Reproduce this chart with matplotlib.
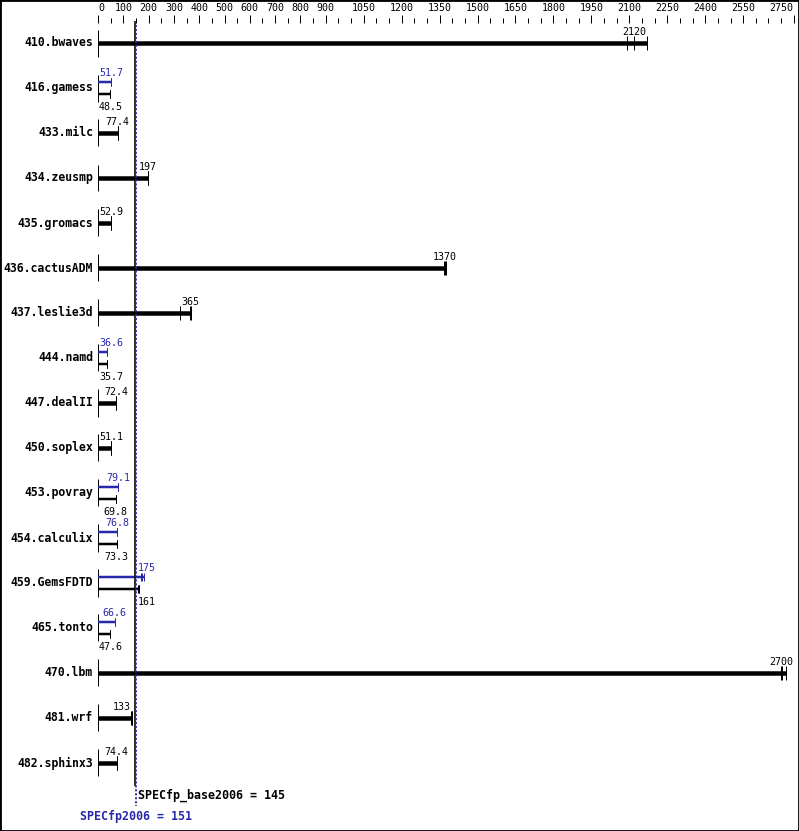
import matplotlib
matplotlib.use("Agg")
import matplotlib.pyplot as plt

# SPECfp2006 results, one row per benchmark
benchmarks = ["410.bwaves", "416.gamess", "433.milc", "434.zeusmp", "435.gromacs",
              "436.cactusADM", "437.leslie3d", "444.namd", "447.dealII", "450.soplex",
              "453.povray", "454.calculix", "459.GemsFDTD", "465.tonto", "470.lbm",
              "481.wrf", "482.sphinx3"]
base_score = [2120, 48.5, 77.4, 197, 52.9, 1370, 365, 35.7, 72.4, 51.1,
              69.8, 73.3, 161, 47.6, 2700, 133, 74.4]
base_runs = [[2090, 2120, 2170], [48.5, 48.5, 48.6], [77.2, 77.4, 77.5], [196, 197, 198],
             [52.9, 52.9, 53.0], [1368, 1370, 1377], [326, 365, 367], [35.6, 35.7, 35.7],
             [72.3, 72.4, 72.5], [51.0, 51.1, 51.2], [69.7, 69.8, 69.9], [73.2, 73.3, 73.4],
             [160, 161, 163], [47.5, 47.6, 47.7], [2700, 2705, 2720], [132, 133, 134],
             [74.3, 74.4, 74.5]]
peak_score = [None, 51.7, None, None, None, None, None, 36.6, None, None,
              79.1, 76.8, 175, 66.6, None, None, None]
peak_runs = [None, [51.6, 51.7, 51.8], None, None, None, None, None, [36.5, 36.6, 36.6],
             None, None, [79.0, 79.1, 79.2], [76.7, 76.8, 76.9], [170, 175, 181],
             [66.5, 66.6, 66.7], None, None, None]
tick_values = [0, 100, 200, 300, 400, 500, 600, 700, 800, 900, 1050, 1200, 1350,
               1500, 1650, 1800, 1950, 2100, 2250, 2400, 2550, 2750]
spec_base = 145
spec_peak = 151

BLUE = "#2828aa"
PX = 0.72          # points per pixel at dpi 100
W, H = 799, 831
x0_px, ppu = 98, 0.253     # pixel of value 0, pixels per unit
row0_px, row_px = 43, 45

plt.rcParams["font.family"] = ["DejaVu Sans Mono"]

fig = plt.figure(figsize=(W / 100, H / 100), dpi=100)
ax = fig.add_axes([0, 0, 1, 1])
ax.set_xlim(-x0_px / ppu, (W - x0_px) / ppu)
ax.set_ylim((H - row0_px) / row_px, -row0_px / row_px)
ax.set_xticks([])
ax.set_yticks([])
for s in ax.spines.values():
    s.set_linewidth(2)

n = len(benchmarks)


def label(value, y, text, color, dy):
    half = len(text) * 6 / 2 / ppu
    lo_zone, hi_zone = spec_base - 1.2 / ppu, spec_peak + 1.3 / ppu
    if value - half < hi_zone and value + half > lo_zone:
        if value < spec_base:
            ax.annotate(text, (spec_base, y), xytext=(-4, dy), textcoords="offset pixels",
                        ha="right", va="baseline", fontsize=7.2, color=color)
        else:
            ax.annotate(text, (spec_peak, y), xytext=(2, dy), textcoords="offset pixels",
                        ha="left", va="baseline", fontsize=7.2, color=color)
    elif value - half < 1 / ppu:
        ax.annotate(text, (0, y), xytext=(1, dy), textcoords="offset pixels",
                    ha="left", va="baseline", fontsize=7.2, color=color)
    else:
        ax.annotate(text, (value, y), xytext=(0, dy), textcoords="offset pixels",
                    ha="center", va="baseline", fontsize=7.2, color=color)


def bar(y, runs, color, lw, cap):
    ax.hlines(y, 0, max(runs), colors=color, lw=lw)
    ax.vlines(runs, y - cap, y + cap, colors=color, lw=PX)


for i, name in enumerate(benchmarks):
    ax.annotate(name, (0, i), xytext=(-5, 0), textcoords="offset pixels",
                ha="right", va="center", fontsize=8.3, fontweight="bold")
    ax.vlines(0, i - 0.3, i + 0.3, colors="black", lw=PX)
    if peak_score[i] is None:
        bar(i, base_runs[i], "black", 4.5 * PX, 0.145)
        label(base_score[i], i, f"{base_score[i]:g}", "black", 8)
    else:
        yp, yb = i - 6 / row_px, i + 6 / row_px
        bar(yp, peak_runs[i], BLUE, 2.5 * PX, 0.085)
        bar(yb, base_runs[i], "black", 2.5 * PX, 0.085)
        label(peak_score[i], i, f"{peak_score[i]:g}", BLUE, 12)
        label(base_score[i], i, f"{base_score[i]:g}", "black", -22)

# overall score lines
ax.vlines(spec_base, -0.5, n - 1 + 0.51, colors="black", lw=1.6 * PX)
ax.vlines(spec_peak, -0.5, n - 1 + 0.96, colors=BLUE, lw=1.8 * PX,
          linestyles=(0, (1.2, 1.0)))
ax.annotate(f"SPECfp_base2006 = {spec_base}", (spec_base, n - 1), xytext=(3, -32),
            textcoords="offset pixels", ha="left", va="center",
            fontsize=8.4, fontweight="bold", color="black")
ax.annotate(f"SPECfp2006 = {spec_peak}", (spec_peak, n - 1), xytext=(0, -54),
            textcoords="offset pixels", ha="center", va="center",
            fontsize=8.4, fontweight="bold", color=BLUE)

# ruler along the top
rax = fig.add_axes([0, (H - 23) / H, 1, 9 / H])
rax.set_xlim(ax.get_xlim())
rax.set_ylim(0, 1)
rax.patch.set_visible(False)
for s in rax.spines.values():
    s.set_visible(False)
rax.set_yticks([])
rax.set_xticks(tick_values)
rax.set_xticklabels([str(v) for v in tick_values])
rax.set_xticks([v for v in range(50, 2751, 50) if v not in tick_values], minor=True)
rax.tick_params(axis="x", which="both", direction="in", bottom=True, top=False,
                labelbottom=False, labeltop=True, width=PX, pad=0.5, labelsize=7.2)
rax.tick_params(axis="x", which="major", length=8 * PX)
rax.tick_params(axis="x", which="minor", length=5 * PX)
tick_labels = rax.get_xticklabels()
tick_labels[0].set_horizontalalignment("left")
tick_labels[-1].set_horizontalalignment("right")

fig.savefig("out.png", dpi=100)
